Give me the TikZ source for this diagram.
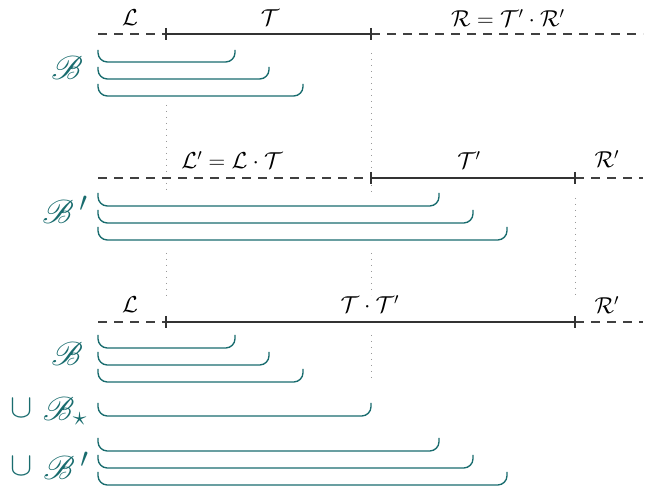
\documentclass[tikz,border=0pt]{standalone}
\usepackage{amssymb}
\usepackage{mathrsfs}
\definecolor{tealc}{RGB}{25,108,110}
\newcommand\bracketdraw[3]{\draw[brk] (98,#1) |- (#2,#3) -- (#2,#1);}
\begin{document}
\begin{tikzpicture}[x=0.75pt,y=-0.75pt,
 dsh/.style={draw=black!75, line width=0.9pt, dash pattern=on 7pt off 5pt},
 sol/.style={draw=black!80, line width=0.9pt},
 tck/.style={draw=black!80, line width=0.9pt},
 dotl/.style={draw=black!40, line width=0.7pt, dash pattern=on 0.7pt off 3.8pt},
 brk/.style={draw=tealc, line width=1pt, rounded corners=7pt},
 lab/.style={font=\fontsize{18}{22}\selectfont, inner sep=0pt},
 blab/.style={text=tealc, font=\fontsize{29}{34}\selectfont, inner sep=0pt},
 ulab/.style={text=tealc, font=\fontsize{24}{28}\selectfont, inner sep=0pt}]
\useasboundingbox (0,0) rectangle (657,491);

% ---------- row 1 ----------
\coordinate (a0) at (98,34);
\coordinate (a1) at (166,34);
\coordinate (a2) at (371,34);
\coordinate (a3) at (643,34);
\draw[dsh] (a0) -- (a1);
\draw[sol] (a1) -- (a2);
\draw[dsh] (a2) -- (a3);
\draw[tck] (166,28) -- (166,40);
\draw[tck] (371,28) -- (371,40);
\node[lab] (l1) at (130,18) {$\mathcal{L}$};
\node[lab] (t1) at (270,18) {$\mathcal{T}$};
\node[lab] (r1) at (508,18) {$\mathcal{R}=\mathcal{T}'\cdot\mathcal{R}'$};
\node[blab] (b1) at (67,68) {$\mathscr{B}$};
\bracketdraw{50}{235}{62}
\bracketdraw{67}{269}{79}
\bracketdraw{84}{303}{96}

% dotted guides row 1 -> row 2
\draw[dotl] (371,53) -- (371,192);
\draw[dotl] (166,105) -- (166,192);

% ---------- row 2 ----------
\coordinate (b0) at (98,178);
\coordinate (bb1) at (371,178);
\coordinate (bb2) at (575,178);
\coordinate (b3) at (643,178);
\draw[dsh] (b0) -- (bb1);
\draw[sol] (bb1) -- (bb2);
\draw[dsh] (bb2) -- (b3);
\draw[tck] (371,172) -- (371,184);
\draw[tck] (575,172) -- (575,184);
\node[lab] (l2) at (232,160) {$\mathcal{L}'=\mathcal{L}\cdot\mathcal{T}$};
\node[lab] (t2) at (469,160) {$\mathcal{T}'$};
\node[lab] (r2) at (607,159) {$\mathcal{R}'$};
\node[blab] (b2) at (65,210) {$\mathscr{B}\,'$};
\bracketdraw{193}{439}{206}
\bracketdraw{210}{473}{223}
\bracketdraw{227}{507}{240}

% dotted guides row 2 -> row 3
\draw[dotl] (575,198) -- (575,295);
\draw[dotl] (166,253) -- (166,298);
\draw[dotl] (371,253) -- (371,295);

% ---------- row 3 ----------
\coordinate (c0) at (98,322);
\coordinate (c1) at (166,322);
\coordinate (c2) at (575,322);
\coordinate (c3) at (643,322);
\draw[dsh] (c0) -- (c1);
\draw[sol] (c1) -- (c2);
\draw[dsh] (c2) -- (c3);
\draw[tck] (166,316) -- (166,328);
\draw[tck] (575,316) -- (575,328);
\node[lab] (l3) at (130,305) {$\mathcal{L}$};
\node[lab] (t3) at (370,304) {$\mathcal{T}\cdot\mathcal{T}'$};
\node[lab] (r3) at (607,305) {$\mathcal{R}'$};
\node[blab] (b3l) at (67,354) {$\mathscr{B}$};
\bracketdraw{335}{235}{348}
\bracketdraw{352}{269}{365}
\bracketdraw{369}{303}{382}
\draw[dotl] (371,335) -- (371,382);

% union with B star
\node[ulab] (u1) at (22,408) {$\cup$};
\node[blab] (bs) at (65,411) {$\mathscr{B}_{\star}$};
\bracketdraw{403}{371}{416}

% union with B'
\node[ulab] (u2) at (22,466) {$\cup$};
\node[blab] (bp) at (66,466) {$\mathscr{B}\,'$};
\bracketdraw{438}{439}{451}
\bracketdraw{455}{473}{468}
\bracketdraw{472}{507}{485}
\end{tikzpicture}
\end{document}
